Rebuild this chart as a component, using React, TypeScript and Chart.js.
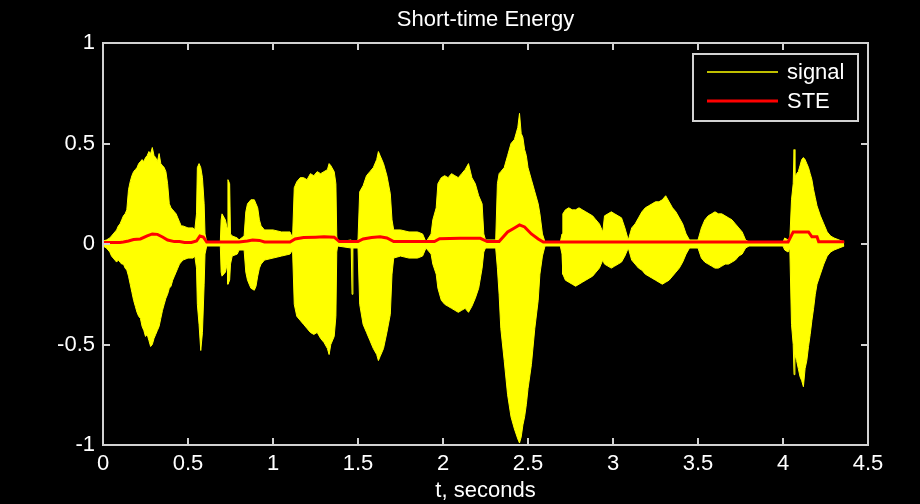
import React, { useEffect, useRef } from 'react';
import { Chart, registerables } from 'chart.js';

Chart.register(...registerables);

// ---------- data ----------
const titleText = 'Short-time Energy';
const xAxisLabel = 't, seconds';
const seriesLabels = ['signal', 'STE'];
const xTicks = [0, 0.5, 1, 1.5, 2, 2.5, 3, 3.5, 4, 4.5];
const yTicks = [-1, -0.5, 0, 0.5, 1];

// signal envelope: time (s), upper peak, lower peak
const sigT = [
  0.00, 0.02, 0.04, 0.05, 0.06, 0.07, 0.08, 0.09, 0.10, 0.11, 0.12, 0.13, 0.14, 0.15, 0.16, 0.17, 0.18, 0.19,
  0.20, 0.21, 0.22, 0.23, 0.24, 0.25, 0.26, 0.27, 0.28, 0.29, 0.30, 0.31, 0.32, 0.33, 0.34, 0.35, 0.36, 0.37,
  0.38, 0.39, 0.40, 0.41, 0.42, 0.43, 0.44, 0.45, 0.46, 0.47, 0.50, 0.53, 0.54, 0.55, 0.555, 0.565, 0.575, 0.585,
  0.595, 0.60, 0.61, 0.69, 0.695, 0.70, 0.72, 0.73, 0.735, 0.745, 0.75, 0.76, 0.79, 0.80, 0.83, 0.84, 0.85, 0.87,
  0.89, 0.90, 0.91, 0.92, 0.93, 0.95, 1.00, 1.05, 1.10, 1.115,
  1.125, 1.14, 1.16, 1.18, 1.20, 1.22, 1.24, 1.26, 1.28, 1.30, 1.32, 1.33, 1.34, 1.36, 1.37, 1.375, 1.38, 1.46,
  1.465, 1.47, 1.50, 1.51, 1.53, 1.55, 1.57, 1.59, 1.61, 1.62, 1.63, 1.65, 1.67, 1.69, 1.70, 1.71, 1.75, 1.80,
  1.85, 1.88, 1.90, 1.93, 1.94, 1.96, 1.97, 1.99, 2.01, 2.03, 2.05, 2.07, 2.09, 2.11, 2.13, 2.15, 2.17, 2.19,
  2.21, 2.23, 2.24, 2.25, 2.31, 2.32, 2.33, 2.34, 2.36, 2.38, 2.40, 2.42, 2.44, 2.45, 2.46, 2.47, 2.48, 2.49,
  2.50, 2.52, 2.54, 2.56, 2.57, 2.585, 2.60, 2.69, 2.70, 2.705, 2.72, 2.74, 2.76, 2.78, 2.80, 2.82, 2.84, 2.86,
  2.88, 2.90, 2.92, 2.94, 2.95, 2.97, 2.99, 3.01, 3.03, 3.05, 3.07, 3.09, 3.11, 3.13, 3.15, 3.17, 3.19, 3.21,
  3.23, 3.25, 3.27, 3.29, 3.31, 3.33, 3.35, 3.37, 3.39, 3.41, 3.43, 3.45, 3.50, 3.52, 3.54, 3.56, 3.58, 3.60,
  3.62, 3.64, 3.66, 3.68, 3.70, 3.72, 3.74, 3.76, 3.78, 3.80, 3.90, 4.00, 4.01, 4.03, 4.04, 4.05, 4.06, 4.065,
  4.07, 4.08, 4.09, 4.10, 4.11, 4.12, 4.13, 4.14, 4.15, 4.16, 4.17, 4.18, 4.19, 4.20, 4.22, 4.24, 4.26, 4.28,
  4.30, 4.33, 4.36,
];
const sigUpper = [
  0.015, 0.02, 0.03, 0.04, 0.05, 0.06, 0.07, 0.09, 0.10, 0.12, 0.14, 0.15, 0.17, 0.27, 0.31, 0.34, 0.36, 0.37,
  0.38, 0.40, 0.41, 0.42, 0.41, 0.43, 0.44, 0.46, 0.45, 0.48, 0.44, 0.43, 0.41, 0.45, 0.40, 0.39, 0.38, 0.36,
  0.30, 0.20, 0.18, 0.17, 0.16, 0.15, 0.13, 0.11, 0.09, 0.09, 0.08, 0.08, 0.07, 0.15, 0.38, 0.40, 0.38, 0.33,
  0.20, 0.05, 0.01, 0.01, 0.12, 0.15, 0.12, 0.08, 0.32, 0.30, 0.05, 0.04, 0.03, 0.02, 0.04, 0.16, 0.20, 0.22,
  0.22, 0.20, 0.18, 0.12, 0.09, 0.07, 0.07, 0.06, 0.06, 0.03,
  0.28, 0.31, 0.33, 0.33, 0.32, 0.35, 0.34, 0.36, 0.35, 0.36, 0.37, 0.40, 0.39, 0.36, 0.30, 0.04, 0.01, 0.02,
  0.01, 0.01, 0.02, 0.26, 0.29, 0.34, 0.36, 0.38, 0.42, 0.46, 0.44, 0.40, 0.34, 0.25, 0.12, 0.07, 0.07, 0.06,
  0.06, 0.05, 0.01, 0.05, 0.12, 0.18, 0.30, 0.33, 0.34, 0.33, 0.35, 0.34, 0.33, 0.35, 0.37, 0.40, 0.33, 0.30,
  0.24, 0.20, 0.05, 0.02, 0.02, 0.30, 0.35, 0.36, 0.38, 0.44, 0.50, 0.52, 0.58, 0.65, 0.55, 0.53, 0.47, 0.44,
  0.38, 0.32, 0.26, 0.20, 0.15, 0.05, 0.01, 0.01, 0.05, 0.15, 0.17, 0.18, 0.17, 0.17, 0.18, 0.17, 0.16, 0.15,
  0.14, 0.12, 0.10, 0.06, 0.14, 0.15, 0.16, 0.15, 0.14, 0.13, 0.08, 0.02, 0.08, 0.10, 0.13, 0.16, 0.18, 0.19,
  0.20, 0.21, 0.21, 0.22, 0.24, 0.21, 0.18, 0.16, 0.13, 0.10, 0.05, 0.02, 0.02, 0.08, 0.12, 0.14, 0.15, 0.16,
  0.15, 0.15, 0.14, 0.13, 0.12, 0.10, 0.08, 0.06, 0.02, 0.01, 0.01, 0.01, 0.03, 0.02, 0.02, 0.22, 0.30, 0.47,
  0.33, 0.35, 0.36, 0.39, 0.42, 0.43, 0.42, 0.40, 0.38, 0.35, 0.32, 0.27, 0.23, 0.19, 0.14, 0.10, 0.06, 0.04,
  0.03, 0.02, 0.01,
];
const sigLower = [
  -0.01, -0.02, -0.04, -0.06, -0.07, -0.08, -0.09, -0.08, -0.09, -0.10, -0.10, -0.12, -0.13, -0.16, -0.20, -0.24, -0.28, -0.31,
  -0.34, -0.36, -0.37, -0.41, -0.43, -0.46, -0.45, -0.48, -0.51, -0.50, -0.47, -0.45, -0.43, -0.41, -0.37, -0.33, -0.30, -0.27,
  -0.25, -0.22, -0.21, -0.18, -0.16, -0.14, -0.12, -0.10, -0.09, -0.08, -0.07, -0.07, -0.06, -0.12, -0.30, -0.40, -0.53, -0.44,
  -0.20, -0.05, -0.01, -0.01, -0.14, -0.16, -0.14, -0.10, -0.20, -0.18, -0.10, -0.06, -0.05, -0.03, -0.03, -0.14, -0.18, -0.22,
  -0.23, -0.21, -0.16, -0.12, -0.10, -0.08, -0.07, -0.06, -0.05, -0.03,
  -0.30, -0.36, -0.38, -0.40, -0.42, -0.44, -0.45, -0.44, -0.47, -0.49, -0.52, -0.55, -0.50, -0.46, -0.36, -0.04, -0.01, -0.02,
  -0.25, -0.02, -0.02, -0.30, -0.40, -0.44, -0.48, -0.52, -0.55, -0.58, -0.56, -0.52, -0.44, -0.35, -0.15, -0.07, -0.06, -0.07,
  -0.07, -0.06, -0.02, -0.05, -0.10, -0.15, -0.22, -0.28, -0.30, -0.31, -0.32, -0.33, -0.34, -0.33, -0.32, -0.34, -0.31, -0.27,
  -0.22, -0.12, -0.04, -0.02, -0.02, -0.12, -0.25, -0.42, -0.58, -0.75, -0.86, -0.92, -0.97, -0.99, -0.96, -0.90, -0.86, -0.80,
  -0.72, -0.60, -0.42, -0.28, -0.15, -0.06, -0.01, -0.01, -0.05, -0.15, -0.18, -0.19, -0.20, -0.21, -0.20, -0.19, -0.18, -0.17,
  -0.16, -0.14, -0.12, -0.08, -0.10, -0.11, -0.12, -0.11, -0.10, -0.09, -0.06, -0.02, -0.08, -0.10, -0.12, -0.13, -0.15, -0.16,
  -0.17, -0.18, -0.19, -0.20, -0.19, -0.18, -0.16, -0.14, -0.12, -0.09, -0.05, -0.02, -0.02, -0.07, -0.09, -0.10, -0.11, -0.12,
  -0.12, -0.11, -0.10, -0.10, -0.09, -0.08, -0.06, -0.05, -0.02, -0.01, -0.01, -0.01, -0.03, -0.04, -0.02, -0.40, -0.50, -0.65,
  -0.55, -0.58, -0.62, -0.66, -0.68, -0.71, -0.62, -0.58, -0.51, -0.45, -0.38, -0.32, -0.25, -0.20, -0.15, -0.10, -0.06, -0.04,
  -0.03, -0.02, -0.01,
];

// short-time energy curve
const steT = [
  0.00, 0.10, 0.12, 0.15, 0.18, 0.22, 0.26, 0.29, 0.32, 0.35, 0.38, 0.42, 0.45, 0.48, 0.52, 0.55, 0.57, 0.59,
  0.61, 0.80, 0.85, 0.88, 0.92, 0.95, 1.10, 1.13, 1.18, 1.25, 1.30, 1.36, 1.39, 1.50, 1.53, 1.58, 1.63, 1.67,
  1.71, 1.95, 1.98, 2.10, 2.22, 2.26, 2.33, 2.38, 2.42, 2.45, 2.48, 2.52, 2.56, 2.59, 4.03, 4.06, 4.15, 4.17,
  4.20, 4.21, 4.36,
];
const steValues = [
  0.008, 0.008, 0.010, 0.015, 0.022, 0.025, 0.040, 0.050, 0.048, 0.035, 0.020, 0.012, 0.012, 0.008, 0.008, 0.015, 0.040, 0.035,
  0.010, 0.010, 0.015, 0.020, 0.018, 0.010, 0.010, 0.025, 0.032, 0.034, 0.036, 0.034, 0.012, 0.012, 0.025, 0.032, 0.036, 0.030,
  0.012, 0.012, 0.026, 0.028, 0.028, 0.012, 0.012, 0.060, 0.080, 0.095, 0.085, 0.050, 0.025, 0.010, 0.010, 0.060, 0.060, 0.036,
  0.036, 0.011, 0.011,
];

const FONT = "'Liberation Sans', Arial, Helvetica, sans-serif";
const YELLOW = '#ffff00';
const RED = '#ff0000';
const AXIS_COLOR = '#d2d2d2';

const framePlugin = {
  id: 'matlabFrame',
  afterDatasetsDraw(chart: any) {
    const { ctx, chartArea, scales } = chart;
    const { left, right, top, bottom } = chartArea;
    ctx.save();
    ctx.strokeStyle = AXIS_COLOR;
    ctx.lineWidth = 2;
    ctx.strokeRect(left, top, right - left, bottom - top);
    const tl = 7;
    scales.x.ticks.forEach((t: any) => {
      const px = Math.round(scales.x.getPixelForValue(t.value));
      ctx.beginPath();
      ctx.moveTo(px, bottom); ctx.lineTo(px, bottom - tl);
      ctx.moveTo(px, top); ctx.lineTo(px, top + tl);
      ctx.stroke();
    });
    scales.y.ticks.forEach((t: any) => {
      const py = Math.round(scales.y.getPixelForValue(t.value));
      ctx.beginPath();
      ctx.moveTo(left, py); ctx.lineTo(left + tl, py);
      ctx.moveTo(right, py); ctx.lineTo(right - tl, py);
      ctx.stroke();
    });

    // title and x label
    ctx.fillStyle = '#ffffff';
    ctx.font = `22px ${FONT}`;
    ctx.textAlign = 'center';
    ctx.textBaseline = 'middle';
    const cx = (left + right) / 2;
    ctx.fillText(titleText, cx, top - 23);
    ctx.fillText(xAxisLabel, cx, bottom + 46);

    // legend
    const bw = 165, bh = 67;
    const bx = right - 10 - bw;
    const by = top + 11;
    ctx.fillStyle = '#000000';
    ctx.fillRect(bx, by, bw, bh);
    ctx.strokeStyle = AXIS_COLOR;
    ctx.lineWidth = 2;
    ctx.strokeRect(bx, by, bw, bh);
    const items = [
      { label: seriesLabels[0], color: YELLOW, width: 1.5, y: by + 18 },
      { label: seriesLabels[1], color: RED, width: 3, y: by + 47 },
    ];
    items.forEach((it) => {
      ctx.strokeStyle = it.color;
      ctx.lineWidth = it.width;
      ctx.beginPath();
      ctx.moveTo(bx + 14, it.y);
      ctx.lineTo(bx + 85, it.y);
      ctx.stroke();
      ctx.fillStyle = '#ffffff';
      ctx.textAlign = 'left';
      ctx.textBaseline = 'middle';
      ctx.fillText(it.label, bx + 94, it.y + 1);
    });
    ctx.restore();
  },
};

export default function App() {
  const ref = useRef<HTMLCanvasElement | null>(null);

  useEffect(() => {
    document.body.style.margin = '0';
    document.body.style.background = '#000';
    const canvas = ref.current;
    if (!canvas) return;
    const upper = sigT.map((t, i) => ({ x: t, y: sigUpper[i] }));
    const lower = sigT.map((t, i) => ({ x: t, y: sigLower[i] }));
    const ste = steT.map((t, i) => ({ x: t, y: steValues[i] }));

    const chart = new Chart(canvas, {
      type: 'line',
      data: {
        datasets: [
          {
            label: seriesLabels[0],
            data: upper,
            borderColor: YELLOW,
            backgroundColor: YELLOW,
            borderWidth: 1,
            pointRadius: 0,
            tension: 0,
            fill: '+1',
            order: 2,
          },
          {
            label: seriesLabels[0] + ' (lower)',
            data: lower,
            borderColor: YELLOW,
            backgroundColor: YELLOW,
            borderWidth: 1,
            pointRadius: 0,
            tension: 0,
            fill: false,
            order: 3,
          },
          {
            label: seriesLabels[1],
            data: ste,
            borderColor: RED,
            backgroundColor: RED,
            borderWidth: 3,
            pointRadius: 0,
            tension: 0,
            fill: false,
            order: 0,
          },
        ],
      },
      options: {
        animation: false,
        responsive: false,
        devicePixelRatio: 1,
        parsing: false as any,
        layout: { padding: { top: 43, right: 52, left: 0, bottom: 0 } },
        plugins: {
          legend: { display: false },
          title: { display: false },
          tooltip: { enabled: false },
        },
        scales: {
          x: {
            type: 'linear',
            min: 0,
            max: 4.5,
            grid: { display: false, drawTicks: false },
            border: { display: false },
            afterBuildTicks: (s: any) => { s.ticks = xTicks.map((v) => ({ value: v })); },
            afterFit: (s: any) => { s.height = 59; },
            ticks: {
              color: '#ffffff',
              font: { family: FONT, size: 22 },
              padding: 6,
              autoSkip: false,
              maxRotation: 0,
              callback: (v: any) => String(v),
            },
          },
          y: {
            type: 'linear',
            min: -1,
            max: 1,
            grid: { display: false, drawTicks: false },
            border: { display: false },
            afterBuildTicks: (s: any) => { s.ticks = yTicks.map((v) => ({ value: v })); },
            afterFit: (s: any) => { s.width = 103; },
            ticks: {
              color: '#ffffff',
              font: { family: FONT, size: 22 },
              padding: 8,
              autoSkip: false,
              callback: (v: any) => String(v),
            },
          },
        },
      },
      plugins: [framePlugin],
    });
    return () => chart.destroy();
  }, []);

  return (
    <div style={{ width: 920, height: 504, background: '#000' }}>
      <canvas ref={ref} width={920} height={504} style={{ display: 'block' }} />
    </div>
  );
}
